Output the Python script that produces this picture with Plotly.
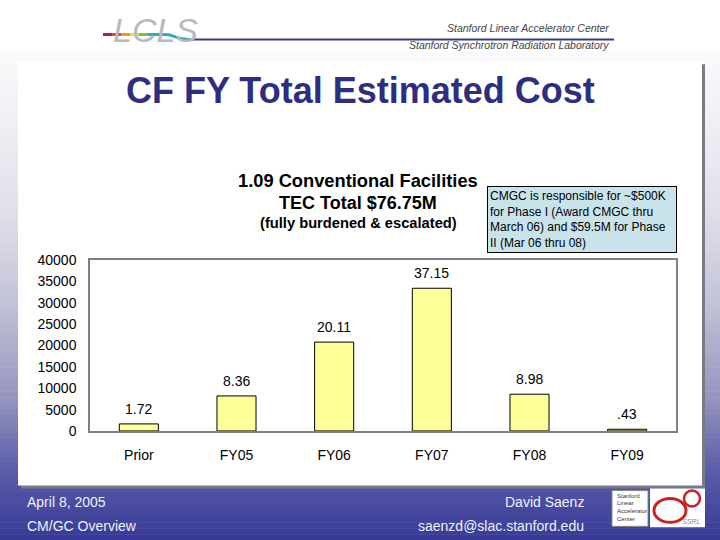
import plotly.graph_objects as go

# ---- data ----
categories = ["Prior", "FY05", "FY06", "FY07", "FY08", "FY09"]
bar_values = [1650, 8200, 20800, 33400, 8600, 400]      # bar heights as drawn (y-axis units)
bar_labels = ["1.72", "8.36", "20.11", "37.15", "8.98", ".43"]  # value labels shown above bars
y_ticks = [0, 5000, 10000, 15000, 20000, 25000, 30000, 35000, 40000]

W, H = 720, 540
FONT = "Liberation Sans, Arial, sans-serif"

# empirical vertical calibration of the rendered page
VOFF, VH = 6.3, 527.4


def px(x):
    return x / W


def py(y):
    return 1 - (y - VOFF) / VH


def hexc(c):
    c = c.lstrip("#")
    return tuple(int(c[i:i + 2], 16) for i in (0, 2, 4))


def lerp(c1, c2, t):
    a, b = hexc(c1), hexc(c2)
    return "rgb(%d,%d,%d)" % tuple(round(a[i] + (b[i] - a[i]) * t) for i in range(3))


shapes = []
# white header cover
shapes.append(dict(type="rect", xref="paper", yref="paper", x0=-0.05, x1=1.05,
                   y0=py(52), y1=py(-20), fillcolor="#ffffff", line=dict(width=0), layer="below"))
# background gradient
stops = [(50, "#fafafc"), (200, "#e2e2ec"), (300, "#c4c4d8"), (400, "#9494be"),
         (470, "#5c5eaa"), (540, "#363a96"), (600, "#363a96")]
y0 = 50
step = 6
while y0 < 560:
    y1 = y0 + step
    ym = (y0 + y1) / 2
    for i in range(len(stops) - 1):
        if stops[i][0] <= ym <= stops[i + 1][0]:
            t = (ym - stops[i][0]) / (stops[i + 1][0] - stops[i][0])
            col = lerp(stops[i][1], stops[i + 1][1], t)
            break
    shapes.append(dict(type="rect", xref="paper", yref="paper", x0=-0.05, x1=1.05,
                       y0=py(y1 + 0.5), y1=py(y0), fillcolor=col, line=dict(width=0),
                       layer="below"))
    y0 = y1

# content box with shadow
shapes.append(dict(type="rect", xref="paper", yref="paper", x0=px(21), x1=px(705),
                   y0=py(490), y1=py(63), fillcolor="#7a7a88", line=dict(width=0), layer="below"))
shapes.append(dict(type="rect", xref="paper", yref="paper", x0=px(18), x1=px(702),
                   y0=py(487), y1=py(60), fillcolor="#ffffff", line=dict(width=0), layer="below"))

# header logo lines
rainbow = ["#b0203a", "#d04a30", "#e8a020", "#e8e040", "#80c040", "#30b0a0", "#30a8c8"]
xs = [103, 112, 121, 130, 139, 148, 157, 166]
for i, c in enumerate(rainbow):
    shapes.append(dict(type="line", xref="paper", yref="paper", x0=px(xs[i]), x1=px(xs[i + 1]),
                       y0=py(33), y1=py(33), line=dict(color=c, width=3)))
shapes.append(dict(type="path", xref="paper", yref="paper",
                   path="M %f,%f C %f,%f %f,%f %f,%f" % (px(166), py(33), px(174), py(33),
                                                         px(176), py(38), px(188), py(38)),
                   line=dict(color="#30a8c8", width=3)))
shapes.append(dict(type="line", xref="paper", yref="paper", x0=px(188), x1=px(614),
                   y0=py(38), y1=py(38), line=dict(color="#3a3a80", width=2)))

# bottom-right logos
shapes.append(dict(type="rect", xref="paper", yref="paper", x0=px(612), x1=px(648),
                   y0=py(528), y1=py(492), fillcolor="#ffffff", line=dict(color="#888888", width=1)))
shapes.append(dict(type="rect", xref="paper", yref="paper", x0=px(650), x1=px(705),
                   y0=py(529), y1=py(490), fillcolor="#ffffff", line=dict(width=0)))
shapes.append(dict(type="circle", xref="paper", yref="paper", x0=px(654), x1=px(686),
                   y0=py(524), y1=py(500), line=dict(color="#cc2020", width=3)))
shapes.append(dict(type="circle", xref="paper", yref="paper", x0=px(684), x1=px(700),
                   y0=py(508), y1=py(492), line=dict(color="#cc2020", width=2.5)))

fig = go.Figure()
fig.add_trace(go.Bar(
    x=categories, y=bar_values,
    marker=dict(color="#ffff99", line=dict(color="#000000", width=1)),
    width=0.4, hoverinfo="skip",
))

annotations = []
for c, v, lab in zip(categories, bar_values, bar_labels):
    annotations.append(dict(x=c, y=v, xref="x", yref="y", text=lab, showarrow=False,
                            yshift=15, yanchor="middle",
                            font=dict(family=FONT, size=14, color="#000000")))


def txt(x, y, s, size, color="#000000", xanchor="center", bold=False, italic=False, **kw):
    if bold:
        s = "<b>%s</b>" % s
    if italic:
        s = "<i>%s</i>" % s
    d = dict(x=px(x), y=py(y), xref="paper", yref="paper", text=s, showarrow=False,
             xanchor=xanchor, yanchor="middle", font=dict(family=FONT, size=size, color=color))
    d.update(kw)
    annotations.append(d)


# header
txt(155, 28, "LCLS", 34, color="#b8b8c0", italic=True)
txt(611, 26, "Stanford Linear Accelerator Center", 10.5, color="#444444", xanchor="right", italic=True)
txt(611, 44, "Stanford Synchrotron Radiation Laboratory", 10.5, color="#444444", xanchor="right", italic=True)

# slide title
txt(360, 89, "CF FY Total Estimated Cost", 36, color="#2e2e80", bold=True)

# chart titles
txt(358, 180, "1.09 Conventional Facilities", 18.3, bold=True)
txt(358, 203, "TEC Total $76.75M", 18, bold=True)
txt(358, 223, "(fully burdened &amp; escalated)", 14.7, bold=True)

# note box
annotations.append(dict(
    x=px(487), y=py(185), xref="paper", yref="paper", xanchor="left", yanchor="top",
    text="CMGC is responsible for ~$500K<br>for Phase I (Award CMGC thru<br>"
         "March 06) and $59.5M for Phase<br>II (Mar 06 thru 08)",
    align="left", showarrow=False, bgcolor="#c9e3ea", bordercolor="#000000", borderwidth=1,
    borderpad=2, width=184, font=dict(family=FONT, size=12, color="#000000")))

# footer
txt(25, 504, "April 8, 2005", 14, color="#f0f0f8", xanchor="left")
txt(25, 528, "CM/GC Overview", 14, color="#f0f0f8", xanchor="left")
txt(586, 504, "David Saenz", 14, color="#f0f0f8", xanchor="right")
txt(586, 528, "saenzd@slac.stanford.edu", 14, color="#f0f0f8", xanchor="right")
for i, w in enumerate(["Stanford", "Linear", "Accelerator", "Center"]):
    txt(615, 497 + i * 8, w, 6, color="#333333", xanchor="left")
txt(702, 523, "SSRL", 7, color="#888888", xanchor="right", italic=True)

fig.update_layout(
    width=W, height=H, margin=dict(l=0, r=0, t=0, b=0),
    paper_bgcolor="#ffffff", plot_bgcolor="#c0c0c0",
    showlegend=False, shapes=shapes, annotations=annotations,
    font=dict(family=FONT, color="#000000"),
    xaxis=dict(domain=[px(90), px(676)], showline=True, linecolor="#808080", linewidth=1.5,
               mirror=True, ticks="", tickfont=dict(size=14), ticklabelstandoff=10,
               showgrid=False, fixedrange=True),
    yaxis=dict(domain=[py(432), py(260)], range=[0, 40000], tickvals=y_ticks, tickformat="d",
               showline=True, linecolor="#808080", linewidth=1.5, mirror=True, ticks="",
               tickfont=dict(size=14), ticklabelstandoff=9, showgrid=False, zeroline=False,
               fixedrange=True),
)

fig.write_html("out.html", config={"displayModeBar": False},
               post_script="document.body.style.margin='0px';")
